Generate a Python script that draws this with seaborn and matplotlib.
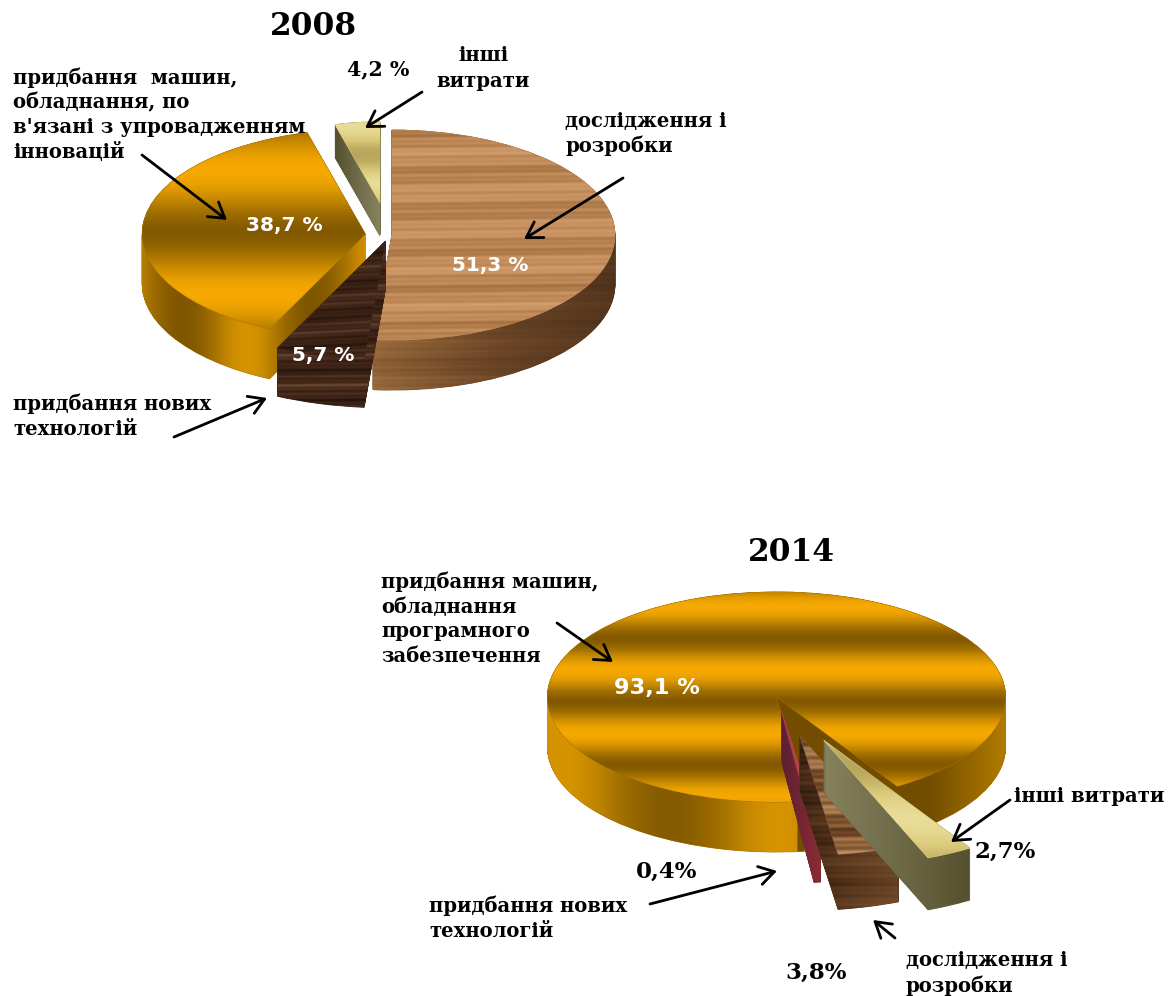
import numpy as np
import seaborn as sns
from matplotlib import pyplot as plt
from matplotlib.patches import PathPatch
from matplotlib.path import Path
from matplotlib.transforms import Affine2D

sns.set_theme(style="white")
plt.rcParams["font.family"] = ["DejaVu Serif", "DejaVu Sans"]

# shares, clockwise, as printed on the chart
names_2008 = ["research", "new_tech", "machinery", "other"]
values_2008 = [51.3, 5.7, 38.7, 4.2]
names_2014 = ["machinery", "other", "research", "new_tech"]
values_2014 = [93.1, 2.7, 3.8, 0.4]

W, H = 1170, 996

cm_gold = sns.blend_palette(["#6e4a00", "#a87400", "#f5a800"], as_cmap=True)
cm_wood = sns.blend_palette(["#a06c3e", "#c08a58", "#d6a272"], as_cmap=True)
cm_wood_side = sns.blend_palette(["#4a2f1a", "#6b4526", "#a0703f"], as_cmap=True)
cm_dark = sns.blend_palette(["#24140b", "#45291a", "#7a5a42"], as_cmap=True)
cm_stripe = sns.blend_palette(["#4a2c16", "#8a5c34", "#c49a70"], as_cmap=True)
cm_stripe_side = sns.blend_palette(["#2a170c", "#5a381e", "#7a5230"], as_cmap=True)
cm_yellow = sns.blend_palette(["#b8a75c", "#d9c878", "#e8dc98"], as_cmap=True)
cm_olive = sns.blend_palette(["#55512f", "#6f6a48", "#86825e"], as_cmap=True)
cm_red = sns.blend_palette(["#a83c44", "#c0504f"], as_cmap=True)
cm_red_side = sns.blend_palette(["#5c2030", "#8a2c36"], as_cmap=True)


def wave(c, period, peak):
    return 0.5 + 0.5 * np.cos(2 * np.pi * (c - peak) / period)


def grain(y, x=0.0):
    g = (
        0.5
        + 0.2 * np.sin(y / 6.1 + x / 300)
        + 0.15 * np.sin(y / 1.9 + 1.0 + x / 170)
        + 0.13 * np.sin(y / 0.83 + x / 90)
    )
    return np.clip(g, 0, 1)


def ramp(x, reverse=False):
    r = (x - x.min()) / max(np.ptp(x), 1)
    return 1 - r if reverse else r


def gold_top(period, peak):
    return cm_gold, lambda X, Y: 0.18 + 0.82 * wave(Y, period, peak) ** 0.8


def side_2014(X, Y):
    # the cut face behind the gap stays dark, only the far rim lightens
    right = 0.04 + 0.5 * np.clip((X - 930) / 70, 0, 1)
    front = (X < 798) & (Y > 790)
    return np.where(front | (X < 700), 0.2 + 0.6 * wave(X, 220, 780), right)


STYLES_2008 = {
    "research": (
        (cm_wood, lambda X, Y: grain(Y, X)),
        (cm_wood_side, lambda X, Y: 0.75 * ramp(X, True) + 0.25 * grain(Y, X)),
    ),
    "new_tech": (
        (cm_dark, lambda X, Y: 0.75 * grain(Y * 1.3, X * 6)),
        (cm_dark, lambda X, Y: 0.85 * grain(Y * 1.2, X)),
    ),
    "machinery": (
        gold_top(125, 170),
        (cm_gold, lambda X, Y: 0.15 + 0.65 * wave(X, 130, 247)),
    ),
    "other": (
        (cm_yellow, lambda X, Y: wave(Y, 60, 125)),
        (cm_olive, lambda X, Y: ramp(X)),
    ),
}

STYLES_2014 = {
    "research": (
        (cm_stripe, lambda X, Y: grain(Y * 0.8, X)),
        (cm_stripe_side, lambda X, Y: 0.55 * ramp(X) + 0.45 * grain(Y * 0.9)),
    ),
    "new_tech": ((cm_red, lambda X, Y: ramp(X)), (cm_red_side, lambda X, Y: ramp(X))),
    "machinery": (gold_top(63.5, 670), (cm_gold, side_2014)),
    "other": (
        (cm_yellow, lambda X, Y: wave(Y, 110, 820)),
        (cm_olive, lambda X, Y: ramp(X, True)),
    ),
}

fig = plt.figure(figsize=(W / 100, H / 100), dpi=100)


def paint(ax, path, geom, cmap, func, zorder):
    cx, cy, rx, ry = geom
    ax.add_patch(
        PathPatch(path, fc=cmap(0.5), lw=0.6, ec=cmap(0.5), zorder=zorder)
    )
    x0, y0 = path.vertices.min(axis=0)
    x1, y1 = path.vertices.max(axis=0)
    px0, px1 = np.floor(cx + x0 * rx), np.ceil(cx + x1 * rx)
    py0, py1 = np.floor(cy - y1 * ry), np.ceil(cy - y0 * ry)
    X, Y = np.meshgrid(np.arange(px0, px1 + 1), np.arange(py0, py1 + 1))
    im = ax.imshow(
        cmap(func(X, Y)),
        extent=[
            (px0 - cx) / rx,
            (px1 - cx) / rx,
            (cy - py1) / ry,
            (cy - py0) / ry,
        ],
        origin="upper",
        aspect="auto",
        interpolation="bilinear",
        zorder=zorder + 0.5,
    )
    im.set_clip_path(path, ax.transData)


def draw_pie(geom, values, names, start, explode, radii, depths, order, styles):
    cx, cy, rx, ry = geom
    ax = fig.add_axes([0, 0, 1, 1])
    ax.patch.set_alpha(0)
    wedges, _ = ax.pie(
        values,
        explode=explode,
        startangle=start,
        counterclock=False,
        normalize=True,
    )
    for wedge, name, radius, depth in zip(wedges, names, radii, depths):
        wedge.set_radius(radius)
        top = wedge.get_path().transformed(wedge.get_patch_transform())
        layers = [
            top.transformed(Affine2D().translate(0, -k / ry))
            for k in range(0, depth + 1)
        ]
        side = Path.make_compound_path(*layers)
        (top_cmap, top_fn), (side_cmap, side_fn) = styles[name]
        z = 2 + 2 * order.index(name)
        paint(ax, side, geom, side_cmap, side_fn, z)
        paint(ax, top, geom, top_cmap, top_fn, z + 1)
        wedge.set_visible(False)
    ax.set_aspect("auto")
    ax.set_xlim(-cx / rx, (W - cx) / rx)
    ax.set_ylim((cy - H) / ry, cy / ry)
    ax.axis("off")


draw_pie(
    (389, 235, 223, 105),
    values_2008,
    names_2008,
    90,
    [0.013, 0.06, 0.107, 0.31],
    [1.0, 1.13, 1.0, 0.77],
    [50, 48, 50, 33],
    ["other", "machinery", "research", "new_tech"],
    STYLES_2008,
)
draw_pie(
    (778, 699, 229, 105),
    values_2014,
    names_2014,
    -83,
    [0.02, 0.44, 0.355, 0.11],
    [1.0, 1.21, 1.15, 1.17],
    [50, 52, 55, 50],
    ["machinery", "new_tech", "research", "other"],
    STYLES_2014,
)

# overlay in picture pixels for the labels and arrows
over = fig.add_axes([0, 0, 1, 1])
over.set_xlim(0, W)
over.set_ylim(H, 0)
over.axis("off")
over.patch.set_alpha(0)


def lines(x, y, rows, ha="left", pitch=24.7):
    for i, row in enumerate(rows):
        over.text(
            x, y + 1 + i * pitch, row, ha=ha, va="center",
            fontsize=14.1, fontweight="bold", color="black",
        )


def pct(x, y, s, color="black", family="DejaVu Serif", size=16.5):
    over.text(
        x, y, s, ha="center", va="center", fontsize=size,
        fontweight="bold", color=color, family=family,
    )


def arrow(tail, head):
    over.annotate(
        "", xy=head, xytext=tail,
        arrowprops=dict(
            arrowstyle="->,head_length=0.9,head_width=0.55",
            lw=2, color="black", shrinkA=0, shrinkB=0,
        ),
    )


pct(313, 26, "2008", size=22.5)
pct(791, 552, "2014", size=22.5)

lines(13, 77, ["придбання  машин,", "обладнання, по", "в'язані з упровадженням", "інновацій"])
lines(483, 54, ["інші", "витрати"], ha="center", pitch=26)
lines(565, 120, ["дослідження і", "розробки"])
lines(13, 403, ["придбання нових", "технологій"])
lines(381, 581, ["придбання машин,", "обладнання", "програмного", "забезпечення"])
lines(1014, 795, ["інші витрати"])
lines(429, 905, ["придбання нових", "технологій"])
lines(906, 959, ["дослідження і", "розробки"], pitch=26)

pct(378, 69, "4,2 %", size=14.8)
pct(284, 225, "38,7 %", "white", "DejaVu Sans", 14.5)
pct(490, 265, "51,3 %", "white", "DejaVu Sans", 14.4)
pct(323, 355, "5,7 %", "white", "DejaVu Sans", 14.4)
pct(657, 688, "93,1 %", "white", "DejaVu Sans", 16.2)
pct(1005, 852, "2,7%")
pct(667, 872, "0,4%")
pct(816, 973, "3,8%")

arrow((422, 92), (365, 128))
arrow((142, 155), (227, 220))
arrow((623, 178), (524, 239))
arrow((174, 437), (267, 398))
arrow((557, 623), (613, 662))
arrow((1010, 800), (951, 842))
arrow((650, 904), (777, 871))
arrow((895, 938), (873, 920))

fig.savefig("out.png", dpi=100)
